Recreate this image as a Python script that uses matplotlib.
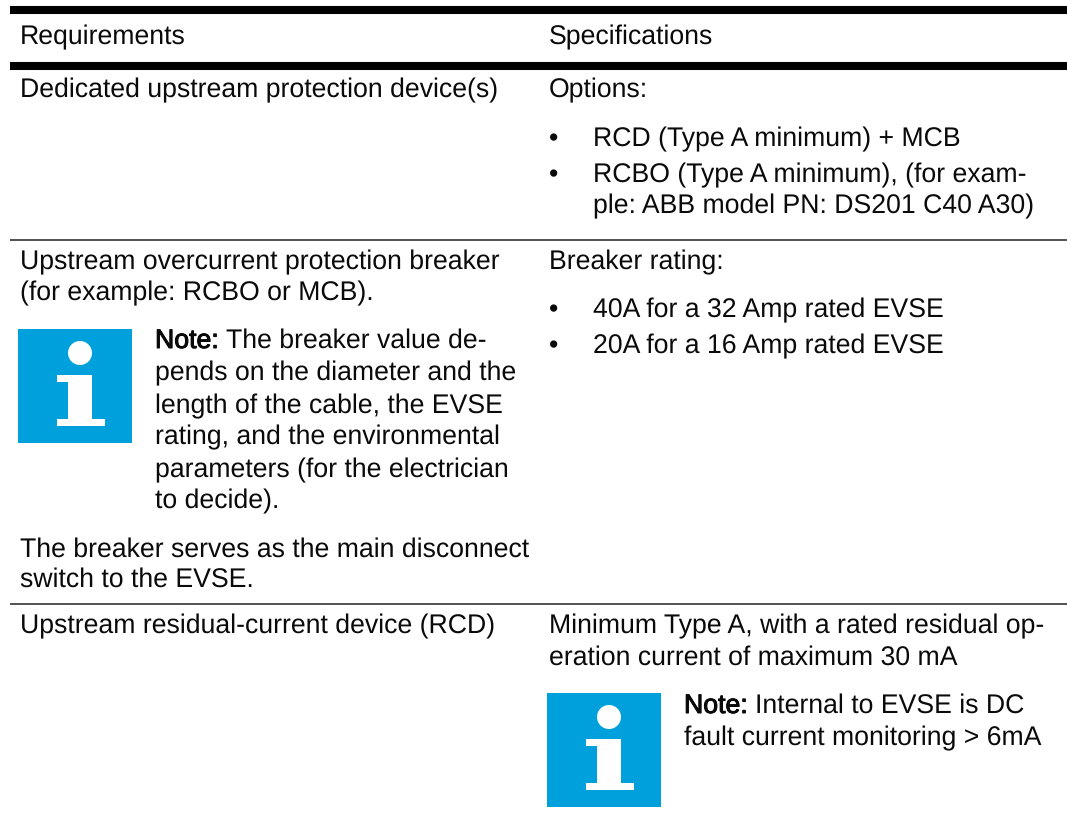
import matplotlib
matplotlib.use('Agg')
import matplotlib.pyplot as plt
import matplotlib.patheffects as pe
from matplotlib.patches import Rectangle, Circle

plt.rcParams['font.family'] = ['Liberation Sans', 'DejaVu Sans']
plt.rcParams['text.hinting'] = 'none'
plt.rcParams['text.hinting_factor'] = 8

W, H = 1067, 827
FS = 19.2
BLUE = '#00a0dc'

headers = ['Requirements', 'Specifications']
left_lines = [
    'Dedicated upstream protection device(s)',
    'Upstream overcurrent protection breaker',
    '(for example: RCBO or MCB).',
    'The breaker serves as the main disconnect',
    'switch to the EVSE.',
    'Upstream residual-current device (RCD)',
]
left_y = [97, 269, 300, 557, 587, 633]
right_lines = [
    'Options:',
    'Breaker rating:',
    'Minimum Type A, with a rated residual op-',
    'eration current of maximum 30 mA',
]
right_y = [97, 269, 633, 665]
bullets = [
    'RCD (Type A minimum) + MCB',
    'RCBO (Type A minimum), (for exam-',
    'ple: ABB model PN: DS201 C40 A30)',
    '40A for a 32 Amp rated EVSE',
    '20A for a 16 Amp rated EVSE',
]
bullet_y = [146, 182, 213, 317, 353]
bullet_dot = [True, True, False, True, True]
note1 = ['pends on the diameter and the', 'length of the cable, the EVSE',
         'rating, and the environmental', 'parameters (for the electrician', 'to decide).']
note1_y = [380, 413, 444, 477, 508]

fig = plt.figure(figsize=(W / 100, H / 100), dpi=100)
ax = fig.add_axes([0, 0, 1, 1])
ax.set_xlim(0, W)
ax.set_ylim(H, 0)
ax.axis('off')


def put(x, y, s, bold=False):
    t = ax.text(x, y, s, fontsize=FS, color='#0a0a0a', va='baseline', ha='left')
    if bold:
        t.set_path_effects([pe.withStroke(linewidth=0.7, foreground='black')])
    return t


def note_start(x, y, rest):
    t = put(x, y, 'Note:', bold=True)
    fig.canvas.draw()
    box = t.get_window_extent()
    put(box.x1 + 7, y, rest)


def info_icon(x, y):
    ax.add_patch(Rectangle((x, y), 114, 114, color=BLUE, lw=0))
    ax.add_patch(Circle((x + 62, y + 24), 12, color='white', lw=0))
    ax.add_patch(Rectangle((x + 39, y + 46), 35, 7, color='white', lw=0))
    ax.add_patch(Rectangle((x + 50, y + 46), 24, 50, color='white', lw=0))
    ax.add_patch(Rectangle((x + 39, y + 90), 48, 7, color='white', lw=0))


# rules
ax.plot([10, W], [10, 10], color='black', lw=5.8, solid_capstyle='butt')
ax.plot([10, W], [66, 66], color='black', lw=5.8, solid_capstyle='butt')
ax.plot([10, W], [240, 240], color='#222222', lw=1.1, solid_capstyle='butt')
ax.plot([10, W], [604, 604], color='#222222', lw=1.1, solid_capstyle='butt')

put(20, 44, headers[0])
put(549, 44, headers[1])

for s, y in zip(left_lines, left_y):
    put(20, y, s)
for s, y in zip(right_lines, right_y):
    put(549, y, s)
for s, y, d in zip(bullets, bullet_y, bullet_dot):
    if d:
        put(549, y, '•')
    put(593, y, s)

info_icon(18, 329)
note_start(155, 348, 'The breaker value de-')
for s, y in zip(note1, note1_y):
    put(155, y, s)

info_icon(547, 693)
note_start(684, 713, 'Internal to EVSE is DC')
put(684, 745, 'fault current monitoring > 6mA')

fig.savefig('out.png', dpi=100)
